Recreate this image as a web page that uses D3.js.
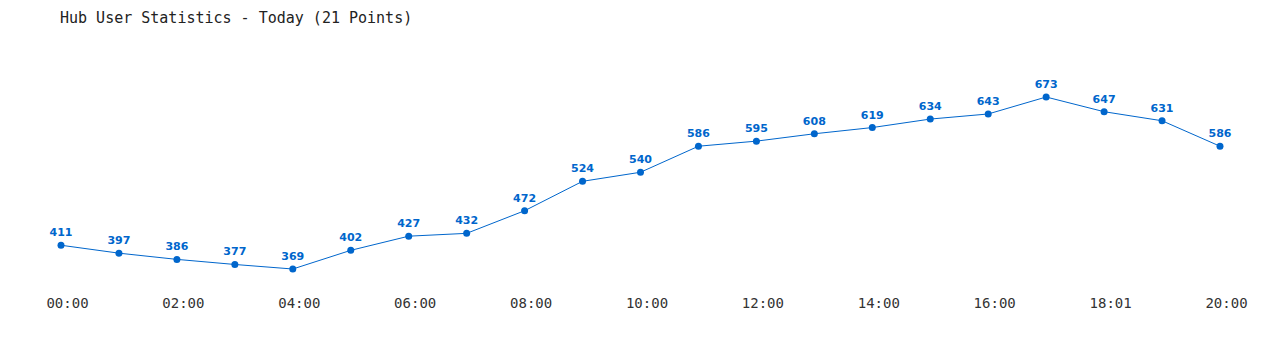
<!DOCTYPE html>
<html><head><meta charset="utf-8">
<script src="https://cdn.jsdelivr.net/npm/d3@7"></script>
<style>body{margin:0;background:#fff}svg{display:block}</style>
</head><body>
<svg id="c" width="1280" height="350"></svg>
<script>
const title = "Hub User Statistics - Today (21 Points)";
const times = ["00:00","01:00","02:00","03:00","04:00","05:00","06:00","07:00","08:00","09:00","10:00","11:00","12:00","13:00","14:00","15:00","16:00","17:00","18:01","19:00","20:00"];
const values = [411,397,386,377,369,402,427,432,472,524,540,586,595,608,619,634,643,673,647,631,586];
const tickLabels = ["00:00","02:00","04:00","06:00","08:00","10:00","12:00","14:00","16:00","18:01","20:00"];

const svg = d3.select("#c");
const color = "#0066cc";
const x = d3.scalePoint().domain(times).range([61, 1220]);
const y = d3.scaleLinear().domain([d3.min(values), d3.max(values)]).range([269, 97]);

svg.append("text").attr("x", 60).attr("y", 23)
  .attr("font-family", "DejaVu Sans Mono").attr("font-size", 15).attr("fill", "#222")
  .text(title);

const xAxis = d3.axisBottom(x).tickValues(tickLabels).tickSize(0).tickPadding(0);
const g = svg.append("g").attr("transform", "translate(6,308)").call(xAxis);
g.select(".domain").remove();
g.selectAll("text").attr("font-family", "DejaVu Sans Mono").attr("font-size", 14)
  .attr("fill", "#333").attr("dy", 0);

const line = d3.line().x((d, i) => x(times[i])).y(d => y(d));
svg.append("path").datum(values).attr("d", line).attr("fill", "none")
  .attr("stroke", color).attr("stroke-width", 1);

svg.selectAll("circle.p").data(values).join("circle").attr("class", "p")
  .attr("cx", (d, i) => x(times[i])).attr("cy", d => y(d)).attr("r", 3.5).attr("fill", color);

svg.selectAll("text.v").data(values).join("text").attr("class", "v")
  .attr("x", (d, i) => x(times[i])).attr("y", d => y(d) - 9)
  .attr("text-anchor", "middle").attr("font-family", "DejaVu Sans").attr("font-weight", "bold")
  .attr("font-size", 11).attr("fill", color).text(d => d);
</script>
</body></html>
